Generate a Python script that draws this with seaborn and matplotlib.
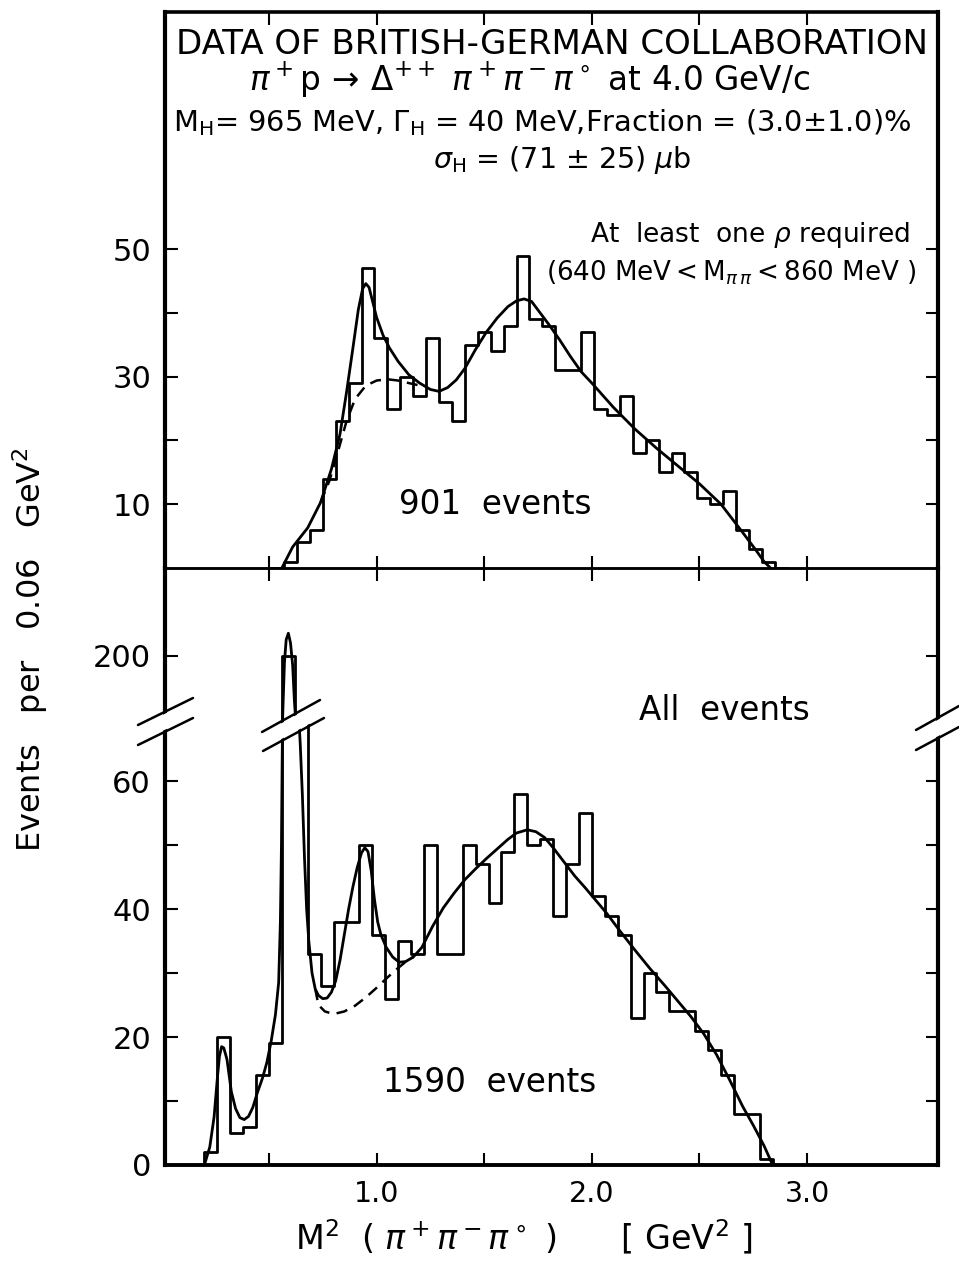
import numpy as np
import pandas as pd
import matplotlib
matplotlib.use("Agg")
import matplotlib.pyplot as plt
import seaborn as sns
from matplotlib.patches import Polygon
from matplotlib.lines import Line2D

# ---------------- data ----------------
# top panel: at least one rho required (bins of 0.06 GeV^2)
top_edges = [0.51, 0.57, 0.63, 0.69, 0.75, 0.81, 0.87, 0.93, 0.99, 1.05, 1.11, 1.17, 1.23,
             1.29, 1.35, 1.41, 1.47, 1.53, 1.59, 1.65, 1.71, 1.77, 1.83, 1.89, 1.95, 2.01,
             2.07, 2.13, 2.19, 2.25, 2.31, 2.37, 2.43, 2.49, 2.55, 2.61, 2.67, 2.73, 2.79,
             2.85, 2.91]
top_centers = [0.60, 0.66, 0.72, 0.78, 0.84, 0.90, 0.96, 1.02, 1.08, 1.14, 1.20, 1.26, 1.32,
               1.38, 1.44, 1.50, 1.56, 1.62, 1.68, 1.74, 1.80, 1.86, 1.92, 1.98, 2.04, 2.10,
               2.16, 2.22, 2.28, 2.34, 2.40, 2.46, 2.52, 2.58, 2.64, 2.70, 2.76, 2.82]
top_counts = [1, 4, 6, 14, 23, 29, 47, 36, 25, 30, 27, 36, 26, 23, 35, 37, 34, 38, 49, 39,
              38, 31, 31, 37, 25, 24, 27, 18, 20, 15, 18, 15, 11, 10, 12, 6, 3, 1]

top_fit_x = [0.56, 0.61, 0.68, 0.74, 0.79, 0.83, 0.86, 0.89, 0.915, 0.935, 0.95, 0.965, 0.98,
             1.00, 1.03, 1.06, 1.10, 1.15, 1.20, 1.25, 1.29, 1.33, 1.37, 1.41, 1.46, 1.51,
             1.56, 1.61, 1.65, 1.685, 1.72, 1.76, 1.80, 1.85, 1.90, 1.95, 2.00, 2.10, 2.20,
             2.30, 2.40, 2.50, 2.60, 2.70, 2.76, 2.80, 2.83]
top_fit_y = [0.0, 3.3, 6.3, 10.3, 15.5, 21.0, 27.5, 34.5, 40.5, 43.8, 44.6, 44.0, 42.0,
             39.3, 36.5, 34.5, 32.4, 30.3, 29.0, 28.0, 27.7, 28.3, 29.5, 31.3, 34.3, 37.0,
             39.2, 41.0, 41.9, 42.2, 41.8, 40.0, 38.2, 35.8, 33.2, 30.8, 29.0, 25.2, 21.8,
             18.8, 16.0, 13.2, 10.0, 5.6, 2.9, 1.0, 0.0]
top_bg_x = [0.74, 0.78, 0.82, 0.86, 0.90, 0.95, 1.00, 1.05, 1.10, 1.15, 1.19]
top_bg_y = [10.3, 13.6, 18.2, 23.0, 26.5, 28.6, 29.4, 29.6, 29.4, 29.0, 28.7]

# bottom panel: all events
bot_edges = [0.14, 0.20, 0.26, 0.32, 0.38, 0.44, 0.50, 0.56, 0.62, 0.68, 0.74, 0.80, 0.86,
             0.92, 0.98, 1.04, 1.10, 1.16, 1.22, 1.28, 1.34, 1.40, 1.46, 1.52, 1.58, 1.64,
             1.70, 1.76, 1.82, 1.88, 1.94, 2.00, 2.06, 2.12, 2.18, 2.24, 2.30, 2.36, 2.42,
             2.48, 2.54, 2.60, 2.66, 2.72, 2.78, 2.84, 2.90]
bot_centers = [0.23, 0.29, 0.35, 0.41, 0.47, 0.53, 0.59, 0.65, 0.71, 0.77, 0.83, 0.89, 0.95,
               1.01, 1.07, 1.13, 1.19, 1.25, 1.31, 1.37, 1.43, 1.49, 1.55, 1.61, 1.67, 1.73,
               1.79, 1.85, 1.91, 1.97, 2.03, 2.09, 2.15, 2.21, 2.27, 2.33, 2.39, 2.45, 2.51,
               2.57, 2.63, 2.69, 2.75, 2.81]
bot_counts = [2, 20, 5, 6, 14, 19, 200, 89, 33, 28, 38, 38, 50, 36, 26, 35, 33, 50, 33, 33,
              50, 47, 41, 49, 58, 50, 51, 39, 47, 55, 42, 39, 36, 23, 30, 27, 24, 24, 21, 18,
              14, 8, 8, 1]

bot_fit_x = [0.20, 0.225, 0.245, 0.26, 0.27, 0.28, 0.29, 0.305, 0.325, 0.345, 0.365, 0.385,
             0.405, 0.425, 0.445, 0.47, 0.49, 0.51, 0.53, 0.545, 0.553, 0.558, 0.561, 0.563,
             0.565, 0.572, 0.58, 0.59, 0.60, 0.61, 0.618, 0.625, 0.64, 0.645, 0.655, 0.665,
             0.675, 0.685, 0.70, 0.715, 0.73, 0.75, 0.77, 0.79, 0.81, 0.83, 0.85, 0.87, 0.89,
             0.91, 0.93, 0.945, 0.96, 0.975, 0.99, 1.005, 1.02, 1.045, 1.075, 1.105, 1.135,
             1.17, 1.21, 1.26, 1.31, 1.36, 1.41, 1.46, 1.51, 1.56, 1.61, 1.65, 1.70, 1.74,
             1.78, 1.82, 1.87, 1.92, 1.97, 2.02, 2.07, 2.13, 2.20, 2.27, 2.34, 2.40, 2.46,
             2.52, 2.58, 2.64, 2.70, 2.75, 2.80, 2.84]
bot_fit_y = [0.0, 2.8, 7.5, 13.5, 17.0, 18.5, 18.3, 16.5, 11.5, 8.8, 7.4, 7.1,
             7.6, 9.0, 11.2, 13.6, 16.0, 19.3, 23.5, 28.5, 38.0, 50.0, 62.0, 69.0,
             192.0, 199.0, 202.5, 203.5, 202.0, 198.5, 193.0, 189.0, 69.0, 66.0, 58.0, 48.0,
             40.0, 35.0, 30.0, 27.5, 26.5, 26.0, 26.1, 27.0, 28.8, 32.0, 36.0, 40.0, 43.5,
             46.5, 48.8, 49.6, 49.0, 46.0, 41.5, 38.0, 36.0, 34.0, 32.5, 31.7, 31.8,
             32.5, 34.0, 37.3, 40.2, 42.5, 44.6, 46.3, 47.9, 49.4, 50.9, 51.9, 52.4, 52.1,
             51.2, 49.6, 47.4, 45.2, 43.3, 41.3, 39.3, 36.6, 33.6, 30.7, 28.0, 25.6, 23.2,
             20.5, 17.2, 13.3, 9.2, 6.2, 3.0, 0.0]
bot_bg_x = [0.715, 0.73, 0.76, 0.80, 0.85, 0.90, 0.95, 1.00, 1.05, 1.10, 1.14, 1.17]
bot_bg_y = [27.5, 25.0, 24.0, 23.6, 24.0, 24.9, 26.2, 27.7, 29.3, 30.8, 31.9, 32.5]

top_yticks_major = [10, 30, 50]
top_yticks_minor = [20, 40]
bot_yticks_major = [0, 20, 40, 60, 200]
bot_yticks_minor = [10, 30, 50]
x_ticks_major = [1.0, 2.0, 3.0]
x_ticks_minor = [0.5, 1.5, 2.5]

# ---------------- style ----------------
sns.set_theme(style="ticks")
plt.rcParams['font.family'] = ['DejaVu Sans']
plt.rcParams['mathtext.fontset'] = 'dejavusans'
plt.rcParams['axes.unicode_minus'] = False
for k in ('text.color', 'axes.labelcolor', 'xtick.color', 'ytick.color', 'axes.edgecolor'):
    plt.rcParams[k] = 'black'

W, H = 959, 1262
fig = plt.figure(figsize=(W / 100, H / 100), dpi=100)
fig.patch.set_facecolor('white')


def fx(px):
    return px / W


def fy(py):
    return 1 - py / H


L, Rr = 165, 938
ax_top = fig.add_axes([fx(L), fy(568), fx(Rr) - fx(L), (568 - 12) / H])
ax_bot = fig.add_axes([fx(L), fy(1165), fx(Rr) - fx(L), (1165 - 568) / H])

XLIM = (0.017, 3.608)
LW = 2.0

# ---------------- top panel ----------------
df_top = pd.DataFrame({"m2": top_centers, "n": top_counts})
sns.histplot(data=df_top, x="m2", weights="n", bins=top_edges, element="step",
             fill=False, color="black", linewidth=LW, ax=ax_top)
sns.lineplot(x=top_fit_x, y=top_fit_y, ax=ax_top, color="black", linewidth=LW,
             estimator=None, sort=False)
sns.lineplot(x=top_bg_x, y=top_bg_y, ax=ax_top, color="black", linewidth=1.8,
             estimator=None, sort=False, linestyle=(0, (4.5, 3)))
ax_top.set_xlim(*XLIM)
ax_top.set_ylim(0, 87.2)

# ---------------- bottom panel ----------------
df_bot = pd.DataFrame({"m2": bot_centers, "n": bot_counts})
sns.histplot(data=df_bot, x="m2", weights="n", bins=bot_edges, element="step",
             fill=False, color="black", linewidth=LW, ax=ax_bot)
sns.lineplot(x=bot_fit_x, y=bot_fit_y, ax=ax_bot, color="black", linewidth=LW,
             estimator=None, sort=False)
sns.lineplot(x=bot_bg_x, y=bot_bg_y, ax=ax_bot, color="black", linewidth=1.8,
             estimator=None, sort=False, linestyle=(0, (4.5, 3)))

LO, HI, EPS = 69.0, 189.5, 1e-3
MID = LO + (HI - LO) * EPS


def fwd(y):
    y = np.asarray(y, dtype=float)
    return np.where(y <= LO, y, np.where(y >= HI, y - (HI - LO) + (HI - LO) * EPS,
                                         LO + (y - LO) * EPS))


def inv(v):
    v = np.asarray(v, dtype=float)
    return np.where(v <= LO, v, np.where(v >= MID, v + (HI - LO) - (HI - LO) * EPS,
                                         LO + (v - LO) / EPS))


ax_bot.set_yscale('function', functions=(fwd, inv))
ax_bot.set_xlim(*XLIM)
ax_bot.set_ylim(0, 213.7)

# ---------------- axes cosmetics ----------------
for ax in (ax_top, ax_bot):
    ax.set_xlabel("")
    ax.set_ylabel("")
    ax.set_facecolor("none")
    ax.set_xticks(x_ticks_major)
    ax.set_xticks(x_ticks_minor, minor=True)
    ax.tick_params(axis='both', which='both', direction='in', top=True, right=True,
                   length=9, width=1.5, color='black', labelcolor='black', pad=10)
    ax.tick_params(axis='y', which='major', labelsize=22)
    ax.tick_params(axis='x', which='major', labelsize=20.5)
    for s in ax.spines.values():
        s.set_color('black')

ax_top.set_yticks(top_yticks_major)
ax_top.set_yticks(top_yticks_minor, minor=True)
ax_top.set_yticklabels([str(t) for t in top_yticks_major])
ax_top.tick_params(axis='x', which='both', labelbottom=False)

ax_bot.set_yticks(bot_yticks_major)
ax_bot.set_yticks(bot_yticks_minor, minor=True)
ax_bot.set_yticklabels([str(t) for t in bot_yticks_major])
ax_bot.yaxis.set_minor_formatter(matplotlib.ticker.NullFormatter())
ax_bot.set_xticklabels(["1.0", "2.0", "3.0"])
ax_bot.tick_params(axis='x', which='major', pad=11)

ax_top.spines['top'].set_linewidth(2.6)
ax_top.spines['left'].set_linewidth(3.0)
ax_top.spines['right'].set_linewidth(3.0)
ax_top.spines['bottom'].set_linewidth(1.8)
ax_bot.spines['top'].set_linewidth(1.8)
ax_bot.spines['left'].set_linewidth(3.0)
ax_bot.spines['right'].set_linewidth(3.0)
ax_bot.spines['bottom'].set_linewidth(2.8)

# ---------------- axis breaks ----------------
slashes = [
    [((138, 725), (193, 698)), ((138, 745), (193, 718))],
    [((262, 732), (320, 700)), ((263, 751), (324, 718))],
    [((916, 730), (959, 706)), ((916, 750), (959, 727))],
]
for (a1, b1), (a2, b2) in slashes:
    poly = Polygon([(fx(a1[0]), fy(a1[1] + 2)), (fx(b1[0]), fy(b1[1] + 2)),
                    (fx(b2[0]), fy(b2[1] - 2)), (fx(a2[0]), fy(a2[1] - 2))],
                   closed=True, facecolor='white', edgecolor='none',
                   transform=fig.transFigure, zorder=10)
    fig.add_artist(poly)
    for a, b in ((a1, b1), (a2, b2)):
        fig.add_artist(Line2D([fx(a[0]), fx(b[0])], [fy(a[1]), fy(b[1])],
                              color='black', linewidth=1.8, transform=fig.transFigure,
                              zorder=11))

# ---------------- texts ----------------
fig.text(fx(552), fy(45), "DATA OF BRITISH-GERMAN COLLABORATION", ha='center',
         va='center', fontsize=24.5)
fig.text(fx(529), fy(80),
         r"$\pi^+$p$\,\rightarrow\,\Delta^{++}\ \pi^+\pi^-\pi^\circ$ at 4.0 GeV/c",
         ha='center', va='center', fontsize=23.5)
fig.text(fx(542), fy(123),
         r"M$_\mathrm{H}$= 965 MeV, $\Gamma_\mathrm{H}$ = 40 MeV,Fraction = (3.0$\pm$1.0)%",
         ha='center', va='center', fontsize=20.8)
fig.text(fx(562), fy(160), r"$\sigma_\mathrm{H}$ = (71 $\pm$ 25) $\mu$b",
         ha='center', va='center', fontsize=20.5)
fig.text(fx(910), fy(235), r"At  least  one $\rho$ required", ha='right', va='center',
         fontsize=19)
fig.text(fx(916), fy(273), r"(640 MeV$<$M$_{\pi\,\pi}$$<$860 MeV )", ha='right',
         va='center', fontsize=18.8)
fig.text(fx(495), fy(505), "901  events", ha='center', va='center', fontsize=23.5)
fig.text(fx(724), fy(710), "All  events", ha='center', va='center', fontsize=23.5)
fig.text(fx(490), fy(1082), "1590  events", ha='center', va='center', fontsize=23.5)
fig.text(fx(30), fy(650), r"Events   per   0.06   GeV$^2$", ha='center', va='center',
         rotation=90, fontsize=23)
fig.text(fx(524), fy(1237), r"M$^2$  ( $\pi^+\pi^-\pi^\circ$ )      [ GeV$^2$ ]",
         ha='center', va='center', fontsize=24)

fig.savefig("out.png", dpi=100, facecolor='white')
